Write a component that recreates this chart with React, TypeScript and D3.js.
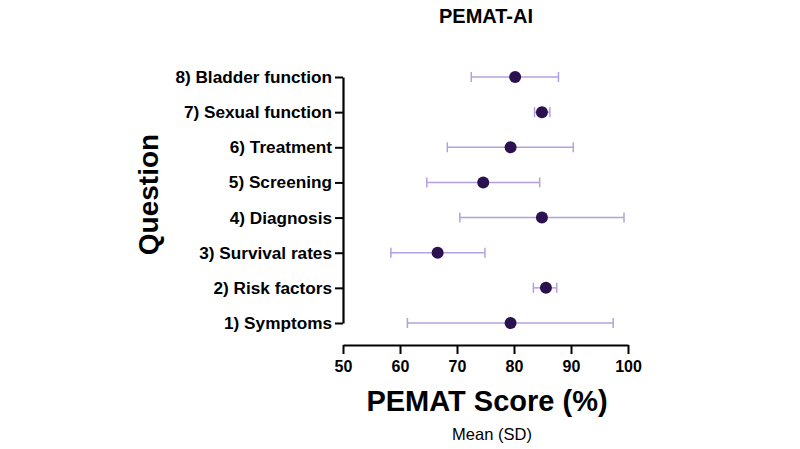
import React, { useEffect, useRef } from "react";
import * as d3 from "d3";

// PEMAT-AI scores per question, mean and SD bounds
const questions = [
  "1) Symptoms",
  "2) Risk factors",
  "3) Survival rates",
  "4) Diagnosis",
  "5) Screening",
  "6) Treatment",
  "7) Sexual function",
  "8) Bladder function",
];
const means = [79.4, 85.6, 66.6, 84.9, 74.6, 79.4, 84.9, 80.2];
const lows = [61.3, 83.4, 58.4, 70.5, 64.7, 68.3, 83.6, 72.5];
const highs = [97.4, 87.5, 74.9, 99.3, 84.5, 90.4, 86.3, 87.8];
const xTicks = [50, 60, 70, 80, 90, 100];

const W = 800, H = 449;
const margin = { top: 52, right: 172, bottom: 104, left: 343 };
const FONT = "Liberation Sans, Arial, sans-serif";

export default function App() {
  const ref = useRef<SVGSVGElement>(null);

  useEffect(() => {
    const svg = d3.select(ref.current);
    svg.selectAll("*").remove();

    const width = W - margin.left - margin.right;
    const height = H - margin.top - margin.bottom;

    const rows = questions.map((q, i) => ({ q, mean: means[i], lo: lows[i], hi: highs[i] }));

    const x = d3.scaleLinear().domain([50, 100]).range([0, width]);
    // rows sit a bit inset from the axis ends
    const y = d3.scalePoint<string>()
      .domain(questions)
      .range([height - 22, 25]);

    const g = svg.append("g").attr("transform", `translate(${margin.left},${margin.top})`);

    // x axis
    const xa = g.append("g")
      .attr("transform", `translate(0,${height})`)
      .call(d3.axisBottom(x).tickValues(xTicks).tickSize(9).tickPadding(7).tickSizeOuter(0));
    xa.select(".domain").attr("stroke", "#000").attr("stroke-width", 2.2);
    xa.selectAll(".tick line").attr("stroke", "#000").attr("stroke-width", 2);
    xa.selectAll(".tick text")
      .attr("font-family", FONT).attr("font-size", 16).attr("font-weight", "bold")
      .attr("fill", "#000");

    // y axis
    const ya = g.append("g")
      .call(d3.axisLeft(y).tickSize(8).tickPadding(3).tickSizeOuter(0));
    ya.select(".domain").attr("stroke", "#000").attr("stroke-width", 2.2);
    ya.selectAll(".tick line").attr("stroke", "#000").attr("stroke-width", 2);
    ya.selectAll(".tick text")
      .attr("font-family", FONT).attr("font-size", 17.2).attr("font-weight", "bold")
      .attr("fill", "#000");

    // error bars
    const bars = g.append("g").selectAll("g").data(rows).enter().append("g")
      .attr("stroke", "#b3a0e2").attr("stroke-width", 1.5);
    bars.append("line")
      .attr("x1", d => x(d.lo)).attr("x2", d => x(d.hi))
      .attr("y1", d => y(d.q)!).attr("y2", d => y(d.q)!);
    bars.append("line")
      .attr("x1", d => x(d.lo)).attr("x2", d => x(d.lo))
      .attr("y1", d => y(d.q)! - 5).attr("y2", d => y(d.q)! + 5);
    bars.append("line")
      .attr("x1", d => x(d.hi)).attr("x2", d => x(d.hi))
      .attr("y1", d => y(d.q)! - 5).attr("y2", d => y(d.q)! + 5);

    // means
    g.append("g").selectAll("circle").data(rows).enter().append("circle")
      .attr("cx", d => x(d.mean)).attr("cy", d => y(d.q)!)
      .attr("r", 6).attr("fill", "#2c1150");

    // titles
    svg.append("text")
      .attr("x", 486).attr("y", 22.5)
      .attr("text-anchor", "middle").attr("font-family", FONT)
      .attr("font-size", 20).attr("font-weight", "bold").text("PEMAT-AI");

    svg.append("text")
      .attr("x", 487).attr("y", 411)
      .attr("text-anchor", "middle").attr("font-family", FONT)
      .attr("font-size", 29).attr("font-weight", "bold").text("PEMAT Score (%)");

    svg.append("text")
      .attr("x", 492).attr("y", 440)
      .attr("text-anchor", "middle").attr("font-family", FONT)
      .attr("font-size", 16.5).text("Mean (SD)");

    svg.append("text")
      .attr("transform", `translate(158,${margin.top + height / 2 - 4}) rotate(-90)`)
      .attr("text-anchor", "middle").attr("font-family", FONT)
      .attr("font-size", 28).attr("font-weight", "bold").text("Question");
  }, []);

  return (
    <svg ref={ref} width={W} height={H}
      style={{ position: "absolute", left: 0, top: 0, background: "#fff" }} />
  );
}
